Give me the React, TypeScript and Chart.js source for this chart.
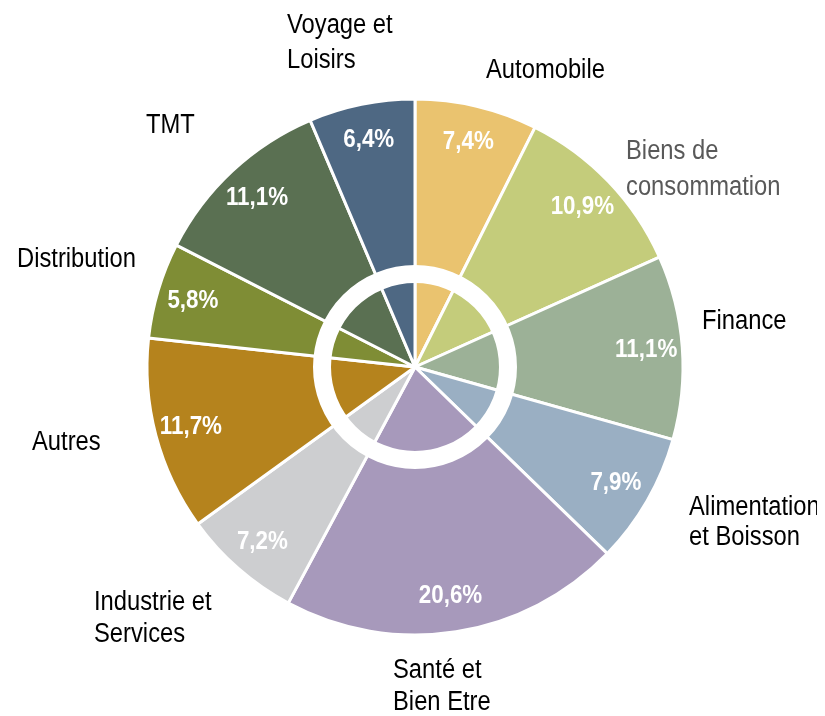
import React, { useEffect, useRef } from "react";
import { Chart, registerables } from "chart.js";

Chart.register(...registerables);

const categories = [
  "Automobile",
  "Biens de consommation",
  "Finance",
  "Alimentation et Boisson",
  "Santé et Bien Etre",
  "Industrie et Services",
  "Autres",
  "Distribution",
  "TMT",
  "Voyage et Loisirs",
];
const categoryLines = [
  ["Automobile"],
  ["Biens de", "consommation"],
  ["Finance"],
  ["Alimentation", "et Boisson"],
  ["Santé et", "Bien Etre"],
  ["Industrie et", "Services"],
  ["Autres"],
  ["Distribution"],
  ["TMT"],
  ["Voyage et", "Loisirs"],
];
const shares = [7.4, 10.9, 11.1, 7.9, 20.6, 7.2, 11.7, 5.8, 11.1, 6.4];
const colors = [
  "#EAC36F",
  "#C4CC7B",
  "#9CB197",
  "#9AAFC3",
  "#A799BB",
  "#CDCED0",
  "#B5831D",
  "#7F8D35",
  "#5A7052",
  "#4E6883",
];

const FONT = '"Liberation Sans", Arial, sans-serif';

// label placement relative to pie centre: [dx of left edge, dy of first baseline, line gap]
const labelPlacement: [number, number, number][] = [
  [71, -289, 35],
  [211, -208, 36],
  [287, -38, 35],
  [274, 148, 30],
  [-22, 311, 32],
  [-321, 243, 32],
  [-383, 83, 35],
  [-398, -100, 35],
  [-269, -234, 35],
  [-128, -334, 35],
];
const labelColors = ["#000", "#595959", "#000", "#000", "#000", "#000", "#000", "#000", "#000", "#000"];

function squeezedText(ctx: CanvasRenderingContext2D, txt: string, x: number, y: number, k: number) {
  ctx.save();
  ctx.translate(x, y);
  ctx.scale(k, 1);
  ctx.fillText(txt, 0, 0);
  ctx.restore();
}

const overlayPlugin = {
  id: "overlay",
  afterDatasetsDraw(chart: any) {
    const ctx = chart.ctx;
    const meta = chart.getDatasetMeta(0);
    const arc0 = meta.data[0];
    const cx = arc0.x;
    const cy = arc0.y;
    const R = arc0.outerRadius;
    ctx.save();
    // white inner ring
    ctx.beginPath();
    ctx.arc(cx, cy, R * 0.347, 0, Math.PI * 2);
    ctx.strokeStyle = "#ffffff";
    ctx.lineWidth = 18;
    ctx.stroke();
    // percentages
    ctx.fillStyle = "#ffffff";
    ctx.font = `bold 26px ${FONT}`;
    ctx.textAlign = "center";
    ctx.textBaseline = "middle";
    meta.data.forEach((arc: any, i: number) => {
      const mid = (arc.startAngle + arc.endAngle) / 2;
      const r = R * 0.865;
      const txt = shares[i].toFixed(1).replace(".", ",") + "%";
      squeezedText(ctx, txt, cx + r * Math.cos(mid), cy + r * Math.sin(mid), 0.86);
    });
    // category labels
    ctx.font = `27px ${FONT}`;
    ctx.textAlign = "left";
    ctx.textBaseline = "alphabetic";
    categoryLines.forEach((lines, i) => {
      const [dx, dy, gap] = labelPlacement[i];
      ctx.fillStyle = labelColors[i];
      lines.forEach((ln, j) => {
        squeezedText(ctx, ln, cx + dx, cy + dy + j * gap, 0.88);
      });
    });
    ctx.restore();
  },
};

export default function App() {
  const ref = useRef<HTMLCanvasElement>(null);
  useEffect(() => {
    if (!ref.current) return;
    const chart = new Chart(ref.current, {
      type: "pie",
      data: {
        labels: categories,
        datasets: [
          {
            data: shares,
            backgroundColor: colors,
            borderColor: "#ffffff",
            borderWidth: 3,
            hoverOffset: 0,
          },
        ],
      },
      options: {
        animation: false,
        responsive: true,
        maintainAspectRatio: false,
        radius: 268,
        layout: { padding: { left: 139, right: 134, top: 91, bottom: 81 } },
        plugins: {
          legend: { display: false },
          tooltip: { enabled: false },
        },
      } as any,
      plugins: [overlayPlugin],
    });
    return () => chart.destroy();
  }, []);
  return (
    <div style={{ width: 809, height: 708, position: "relative" }}>
      <canvas ref={ref} />
    </div>
  );
}
